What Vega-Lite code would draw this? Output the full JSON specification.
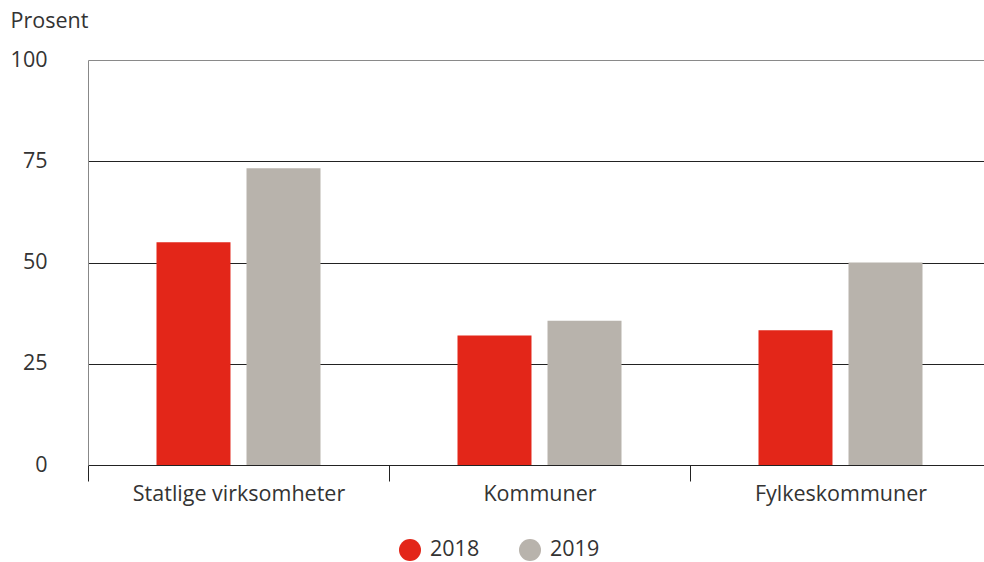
{
  "$schema": "https://vega.github.io/schema/vega-lite/v6.json",
  "autosize": {"type": "none"},
  "width": 896,
  "height": 405,
  "padding": {"left": 88, "top": 60, "right": 0, "bottom": 97},
  "background": "white",
  "config": {
    "font": "Open Sans",
    "view": {"stroke": null}
  },
  "data": {
    "values": [
      {"sektor": "Statlige virksomheter", "år": "2018", "prosent": 55},
      {"sektor": "Statlige virksomheter", "år": "2019", "prosent": 73.3},
      {"sektor": "Kommuner", "år": "2018", "prosent": 32},
      {"sektor": "Kommuner", "år": "2019", "prosent": 35.6},
      {"sektor": "Fylkeskommuner", "år": "2018", "prosent": 33.3},
      {"sektor": "Fylkeskommuner", "år": "2019", "prosent": 50}
    ]
  },
  "mark": {"type": "bar"},
  "encoding": {
    "x": {
      "field": "sektor",
      "type": "nominal",
      "sort": ["Statlige virksomheter", "Kommuner", "Fylkeskommuner"],
      "scale": {"paddingInner": 0, "paddingOuter": 0, "range": [0, 903]},
      "axis": {
        "title": null,
        "labelAngle": 0,
        "labelFontSize": 21.5,
        "labelColor": "#333333",
        "labelPadding": 2,
        "labelLimit": 400,
        "tickSize": 16,
        "tickColor": "#222222",
        "tickBand": "extent",
        "domainColor": "#222222",
        "grid": false
      }
    },
    "xOffset": {
      "field": "år",
      "type": "nominal",
      "scale": {"paddingInner": 0.178, "paddingOuter": 0.761}
    },
    "y": {
      "field": "prosent",
      "type": "quantitative",
      "scale": {"domain": [0, 100], "nice": false},
      "axis": {
        "values": [0, 25, 50, 75, 100],
        "title": "Prosent",
        "titleAngle": 0,
        "titleAlign": "left",
        "titleBaseline": "top",
        "titleX": -78,
        "titleY": -50,
        "titleFontSize": 21.5,
        "titleFontWeight": "normal",
        "titleColor": "#333333",
        "labelFontSize": 21.5,
        "labelColor": "#333333",
        "labelPadding": 41,
        "ticks": false,
        "domainColor": "#888888",
        "gridColor": {"condition": {"test": "datum.value === 100", "value": "#8a8a8a"}, "value": "#222222"},
        "gridWidth": 1
      }
    },
    "color": {
      "field": "år",
      "type": "nominal",
      "scale": {"domain": ["2018", "2019"], "range": ["#e32619", "#b8b3ac"]},
      "legend": {
        "title": null,
        "orient": "none",
        "direction": "horizontal",
        "legendX": 311,
        "legendY": 479,
        "symbolType": "circle",
        "symbolSize": 484,
        "symbolStrokeWidth": 0,
        "symbolOpacity": 1,
        "labelFontSize": 21.5,
        "labelColor": "#333333",
        "labelOffset": 9,
        "columnPadding": 39
      }
    }
  }
}
